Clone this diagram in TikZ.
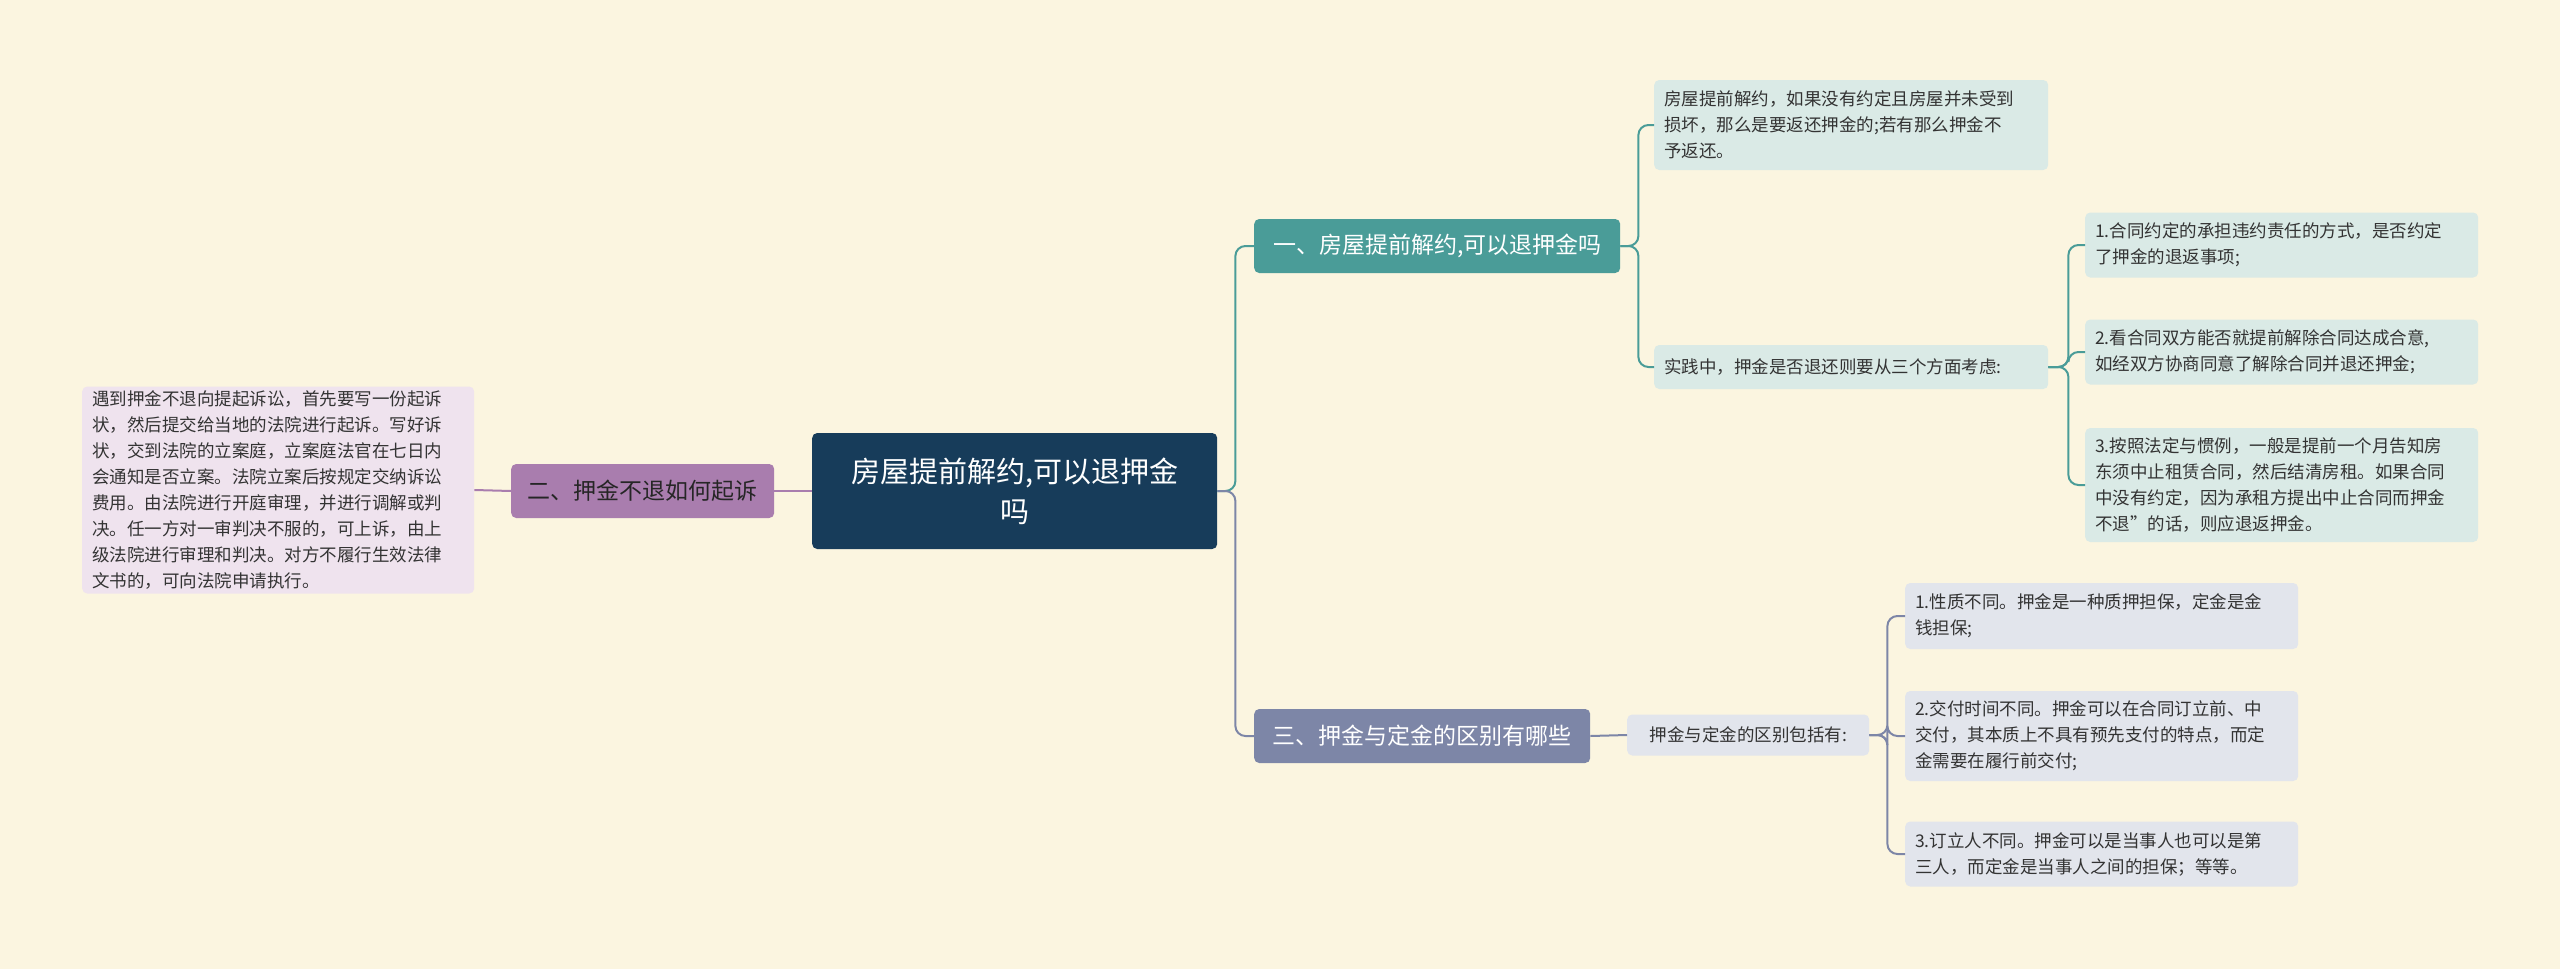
\documentclass[tikz,border=0pt]{standalone}
\usepackage{fontspec}
\setmainfont{Noto Sans CJK SC}
\begin{document}
\begin{tikzpicture}[x=1pt,y=-1pt,
  box/.style={rounded corners=5pt, anchor=west, inner xsep=10pt, inner ysep=0pt, align=left},
  leaf/.style={box, font=\fontsize{17.5}{26}\selectfont, text=black!80},
  tealleaf/.style={leaf, fill=tl},
  grayleaf/.style={leaf, fill=gl},
  conn/.style={line width=2pt, rounded corners=10pt}]
\definecolor{bg}{HTML}{FBF5E0}
\definecolor{tl}{HTML}{DAEAE6}
\definecolor{gl}{HTML}{E2E5EC}
\definecolor{pl}{HTML}{EFE3EE}
\definecolor{teal1}{HTML}{4A9C98}
\definecolor{slate}{HTML}{7D86A7}
\definecolor{purp}{HTML}{A97DAE}
\definecolor{navy}{HTML}{173C5A}
\fill[bg] (0,0) rectangle (2560,969);
\useasboundingbox (0,0) rectangle (2560,969);
\node[box, fill=navy, text=white, minimum width=405, minimum height=116, align=center, text width=380, font=\fontsize{29}{40}\selectfont] (root) at (812,491) {房屋提前解约,可以退押金\\吗};
\node[box, fill=purp, text=black!85, minimum width=263, minimum height=54, font=\fontsize{23}{30}\selectfont] (b2) at (511,491) {二、押金不退如何起诉};
\node[leaf, fill=pl, minimum width=392, minimum height=207, text width=372] (l2) at (82,490) {遇到押金不退向提起诉讼，首先要写一份起诉\\状，然后提交给当地的法院进行起诉。写好诉\\状，交到法院的立案庭，立案庭法官在七日内\\会通知是否立案。法院立案后按规定交纳诉讼\\费用。由法院进行开庭审理，并进行调解或判\\决。任一方对一审判决不服的，可上诉，由上\\级法院进行审理和判决。对方不履行生效法律\\文书的，可向法院申请执行。};
\node[box, fill=teal1, text=white, minimum width=366, minimum height=54, font=\fontsize{23}{30}\selectfont] (b1) at (1254,246) {一、房屋提前解约,可以退押金吗};
\node[tealleaf, minimum width=394, minimum height=90, text width=374] (l1a) at (1654,125) {房屋提前解约，如果没有约定且房屋并未受到\\损坏，那么是要返还押金的;若有那么押金不\\予返还。};
\node[tealleaf, minimum width=394, minimum height=44, text width=374] (l1b) at (1654,367) {实践中，押金是否退还则要从三个方面考虑:};
\node[tealleaf, minimum width=393, minimum height=65, text width=373] (s1) at (2085,245) {1.合同约定的承担违约责任的方式，是否约定\\了押金的退返事项;};
\node[tealleaf, minimum width=393, minimum height=65, text width=373] (s2) at (2085,352) {2.看合同双方能否就提前解除合同达成合意,\\如经双方协商同意了解除合同并退还押金;};
\node[tealleaf, minimum width=393, minimum height=114, text width=373] (s3) at (2085,485) {3.按照法定与惯例，一般是提前一个月告知房\\东须中止租赁合同，然后结清房租。如果合同\\中没有约定，因为承租方提出中止合同而押金\\不退”的话，则应退返押金。};
\node[box, fill=slate, text=white, minimum width=336, minimum height=54, font=\fontsize{23}{30}\selectfont] (b3) at (1254,736) {三、押金与定金的区别有哪些};
\node[grayleaf, minimum width=242, minimum height=41] (l3) at (1627,735) {押金与定金的区别包括有:};
\node[grayleaf, minimum width=393, minimum height=66, text width=373] (t1) at (1905,616) {1.性质不同。押金是一种质押担保，定金是金\\钱担保;};
\node[grayleaf, minimum width=393, minimum height=90, text width=373] (t2) at (1905,736) {2.交付时间不同。押金可以在合同订立前、中\\交付，其本质上不具有预先支付的特点，而定\\金需要在履行前交付;};
\node[grayleaf, minimum width=393, minimum height=65, text width=373] (t3) at (1905,854) {3.订立人不同。押金可以是当事人也可以是第\\三人，而定金是当事人之间的担保；等等。};
% connectors
\draw[conn, purp] (root.west) -- (b2.east);
\draw[conn, purp] (b2.west) -- (l2.east);
\draw[conn, teal1] (root.east) -- ++(18,0) |- (b1.west);
\draw[conn, slate] (root.east) -- ++(18,0) |- (b3.west);
\draw[conn, teal1] (b1.east) -- ++(18,0) |- (l1a.west);
\draw[conn, teal1] (b1.east) -- ++(18,0) |- (l1b.west);
\foreach \s in {s1,s2,s3} \draw[conn, teal1] (l1b.east) -- ++(20,0) |- (\s.west);
\draw[conn, slate] (b3.east) -- (l3.west);
\foreach \s in {t1,t2,t3} \draw[conn, slate] (l3.east) -- ++(18,0) |- (\s.west);
\end{tikzpicture}
\end{document}
